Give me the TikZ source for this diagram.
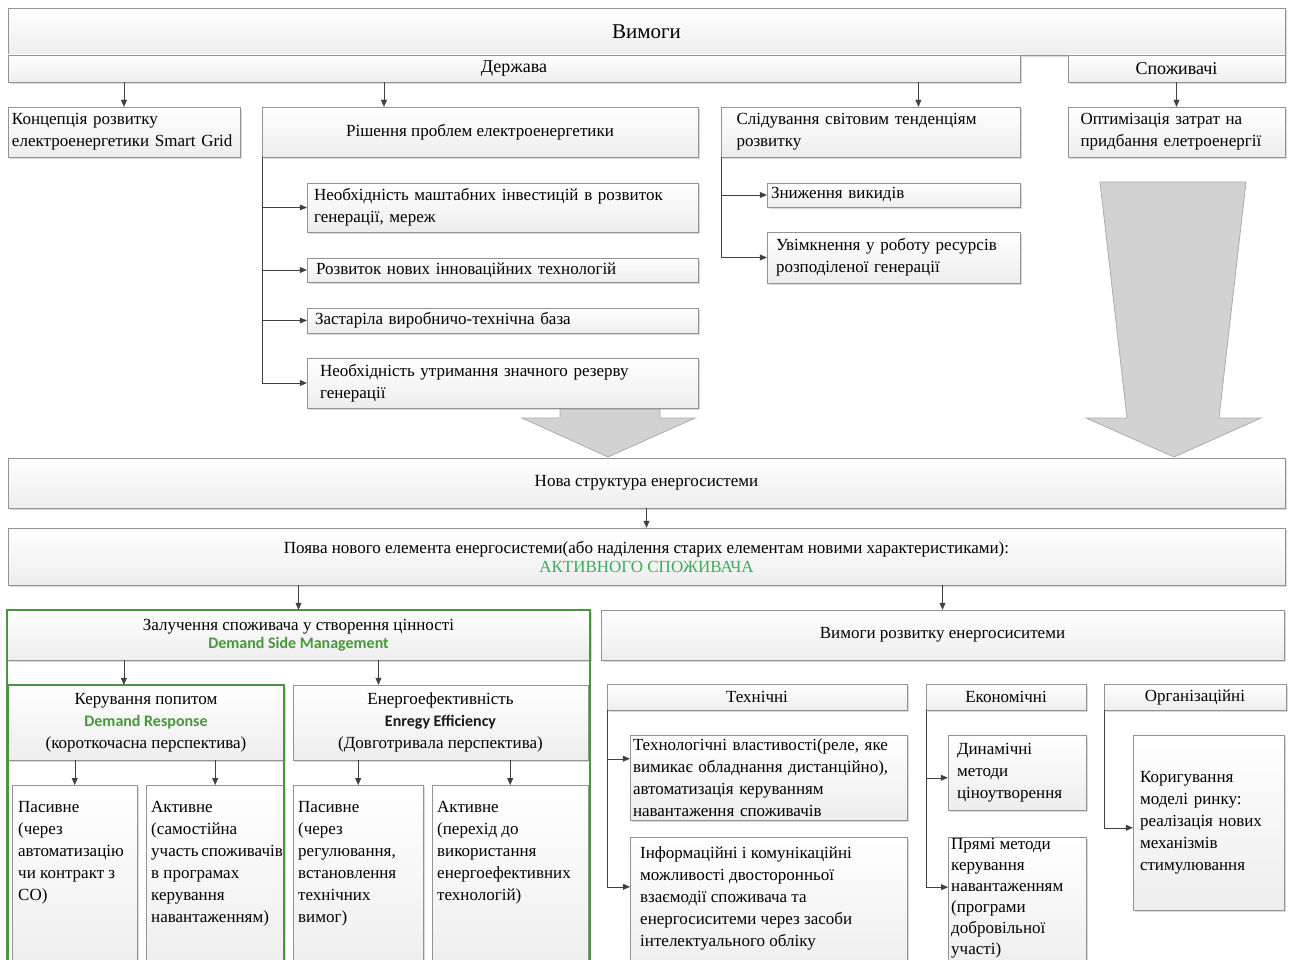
\documentclass[tikz,border=0pt]{standalone}
\usepackage{fontspec}
\setmainfont{Liberation Serif}
\newfontfamily\calib{Carlito}
\usetikzlibrary{arrows.meta,shadows,calc}
\definecolor{dsmgreen}{RGB}{72,150,60}
\definecolor{actgreen}{RGB}{64,168,96}
\definecolor{linegray}{RGB}{64,64,64}
\hyphenpenalty=10000
\exhyphenpenalty=10000
\newcommand{\topfill}[3]{\parbox[c][#2][t]{#1}{\raggedright #3}}

\begin{document}
\begin{tikzpicture}[x=1pt,y=-1pt,
  font=\fontsize{17}{22}\selectfont,
  box/.style={draw=gray!85, top color=white, bottom color=gray!14, inner sep=0pt,
    drop shadow={shadow xshift=2pt, shadow yshift=-2pt, opacity=0.3}},
  txt/.style={box, align=left},
  arr/.style={draw=linegray, -{Triangle[length=7pt,width=6pt]}},
  grn/.style={draw=dsmgreen, line width=2pt},
  bigarrow/.style={fill=gray!35, draw=gray!65, line width=0.8pt}]

  \useasboundingbox (0,0) rectangle (1294,960);

  % block arrows into the new structure
  \draw[bigarrow] (560,395) -- (560,418) -- (522,418) -- (608,457) -- (695,418) -- (660,418) -- (660,395) -- cycle;
  \draw[bigarrow] (1100,182) -- (1246,182) -- (1219,418) -- (1261,418) -- (1174,457) -- (1086,418) -- (1127,418) -- cycle;

  % requirements
  \node[box, minimum width=1277, minimum height=47, font=\fontsize{21}{24}\selectfont] (vymohy) at (646.5,31.5) {Вимоги};
  \node[box, minimum width=1012, minimum height=27, font=\fontsize{18}{20}\selectfont] (derzhava) at (514,68.5) {Держава};
  \node[box, minimum width=217, minimum height=27, font=\fontsize{18}{20}\selectfont] (spozh) at (1176.5,68.5) {Споживачі};

  \node[txt, minimum width=232, minimum height=50, text width=224] (konc) at (124,132) {Концепція розвитку\\електроенергетики Smart~Grid};
  \node[box, minimum width=436, minimum height=50] (rish) at (480,132) {Рішення проблем електроенергетики};
  \node[txt, minimum width=299, minimum height=50, text width=268] (slid) at (870.5,132) {Слідування світовим тенденціям\\розвитку};
  \node[txt, minimum width=217, minimum height=50, text width=192] (optym) at (1176.5,132) {Оптимізація затрат на\\придбання елетроенергії};

  \node[txt, minimum width=391, minimum height=49, text width=377] (inv) at (502.5,207.5) {Необхідність маштабних інвестицій в~розвиток\\генерації, мереж};
  \node[txt, minimum width=391, minimum height=24, text width=373] (rozv) at (502.5,270) {Розвиток нових інноваційних технологій};
  \node[txt, minimum width=391, minimum height=25, text width=375] (zast) at (502.5,320.5) {Застаріла виробничо-технічна база};
  \node[txt, minimum width=391, minimum height=50, text width=365] (rezerv) at (502.5,383) {Необхідність утримання значного резерву\\генерації};
  \node[txt, minimum width=253, minimum height=24, text width=245] (znyzh) at (893.5,195) {Зниження викидів};
  \node[txt, minimum width=253, minimum height=51, text width=235] (uvimk) at (893.5,257.5) {Увімкнення у роботу ресурсів\\розподіленої генерації};

  % new structure
  \node[box, minimum width=1277, minimum height=50] (nova) at (646.5,483) {Нова структура енергосистеми};
  \node[box, minimum width=1277, minimum height=57, align=center, font=\fontsize{17}{19}\selectfont] (poyava) at (646.5,556.5) {Поява нового елемента енергосистеми(або наділення старих елементам новими характеристиками):\\{\color{actgreen}АКТИВНОГО СПОЖИВАЧА}};

  % demand side management
  \node[box, minimum width=583, minimum height=50, align=center, font=\fontsize{17}{18}\selectfont] (zaluch) at (298.5,635) {Залучення споживача у створення цінності\\{\calib\bfseries\fontsize{16}{18}\selectfont\color{dsmgreen}Demand Side Management}};
  \node[box, minimum width=276, minimum height=75, align=center] (keruv) at (146,722.5) {Керування попитом\\{\calib\bfseries\fontsize{16}{22}\selectfont\color{dsmgreen}Demand Response}\\(короткочасна перспектива)};
  \node[box, minimum width=295, minimum height=75, align=center] (energ) at (440.5,722.5) {Енергоефективність\\{\calib\bfseries\fontsize{16}{22}\selectfont\color{gray!20!black}Enregy Efficiency}\\(Довготривала перспектива)};

  \node[box, anchor=north west, inner xsep=6pt, inner ysep=16pt] (pas1) at (12,785) {\topfill{113pt}{160pt}{Пасивне\\(через\\автоматизацію\\чи контракт з\\СО)}};
  \node[box, anchor=north west, inner xsep=5pt, inner ysep=16pt] (act1) at (146,785) {\topfill{128pt}{160pt}{Активне\\(самостійна\\участь~споживачів\\в програмах\\керування\\навантаженням)}};
  \node[box, anchor=north west, inner xsep=5pt, inner ysep=16pt] (pas2) at (293,785) {\topfill{120pt}{160pt}{Пасивне\\(через\\регулювання,\\встановлення\\технічних\\вимог)}};
  \node[box, anchor=north west, inner xsep=5pt, inner ysep=16pt] (act2) at (432,785) {\topfill{146pt}{160pt}{Активне\\(перехід до\\використання\\енергоефективних\\технологій)}};

  \draw[grn] (7,610) rectangle (590,975);
  \draw[grn] (8,685) rectangle (284,975);

  % development requirements
  \node[box, minimum width=683, minimum height=50] (vymrozv) at (942.5,635) {Вимоги розвитку енергосиситеми};
  \node[box, minimum width=300, minimum height=26] (tech) at (757,697) {Технічні};
  \node[box, minimum width=160, minimum height=26] (ekon) at (1006,697) {Економічні};
  \node[box, minimum width=182, minimum height=26] (org) at (1195,697) {Організаційні};

  \node[txt, minimum width=277, minimum height=85, text width=271] (techn1) at (768.5,777.5) {Технологічні властивості(реле,~яке\\вимикає обладнання дистанційно),\\автоматизація керуванням\\навантаження споживачів};
  \node[box, anchor=north west, inner xsep=10pt, inner ysep=9pt] (inform) at (630,837) {\topfill{257pt}{120pt}{Інформаційні і комунікаційні\\можливості двосторонньої\\взаємодії споживача та\\енергосиситеми через засоби\\інтелектуального обліку}};
  \node[txt, minimum width=138, minimum height=75, text width=120] (dyn) at (1017,772.5) {Динамічні\\методи\\ціноутворення};
  \node[box, anchor=north west, inner xsep=3pt, inner ysep=1pt, font=\fontsize{17}{21}\selectfont] (pryami) at (948,837) {\topfill{132pt}{137pt}{Прямі методи\\керування\\навантаженням\\(програми\\добровільної\\участі)}};
  \node[txt, minimum width=151, minimum height=175, text width=137] (koryg) at (1208.5,822.5) {Коригування\\моделі ринку:\\реалізація нових\\механізмів\\стимулювання};

  % connectors
  \coordinate (rishin) at ($(rish.north west)!0.28!(rish.north east)$);
  \coordinate (slidin) at ($(slid.north west)!0.66!(slid.north east)$);
  \draw[arr] (derzhava.south -| konc.north) -- (konc.north);
  \draw[arr] (derzhava.south -| rishin) -- (rishin);
  \draw[arr] (derzhava.south -| slidin) -- (slidin);
  \draw[arr] (spozh.south) -- (optym.north);
  \foreach \b in {inv,rozv,zast,rezerv} \draw[arr] (rish.south west) |- (\b.west);
  \foreach \b in {znyzh,uvimk} \draw[arr] (slid.south west) |- (\b.west);

  \draw[arr] (nova.south) -- (poyava.north);
  \draw[arr] (poyava.south -| zaluch.north) -- (zaluch.north);
  \draw[arr] (poyava.south -| vymrozv.north) -- (vymrozv.north);

  \coordinate (keruvin) at ($(keruv.north west)!0.42!(keruv.north east)$);
  \coordinate (energin) at ($(energ.north west)!0.29!(energ.north east)$);
  \draw[arr] (zaluch.south -| keruvin) -- (keruvin);
  \draw[arr] (zaluch.south -| energin) -- (energin);
  \foreach \b in {pas1,act1} \draw[arr] (keruv.south -| \b.north) -- (\b.north);
  \foreach \b in {pas2,act2} \draw[arr] (energ.south -| \b.north) -- (\b.north);

  \coordinate (techin) at ($(techn1.north west)!0.28!(techn1.south west)$);
  \coordinate (informin) at ($(inform.north west)!0.36!(inform.south west)$);
  \coordinate (dynin) at ($(dyn.north west)!0.57!(dyn.south west)$);
  \coordinate (pryamin) at ($(pryami.north west)!0.36!(pryami.south west)$);
  \coordinate (korygin) at ($(koryg.north west)!0.53!(koryg.south west)$);
  \foreach \b in {techin,informin} \draw[arr] (tech.south west) |- (\b);
  \foreach \b in {dynin,pryamin} \draw[arr] (ekon.south west) |- (\b);
  \draw[arr] (org.south west) |- (korygin);
\end{tikzpicture}
\end{document}
